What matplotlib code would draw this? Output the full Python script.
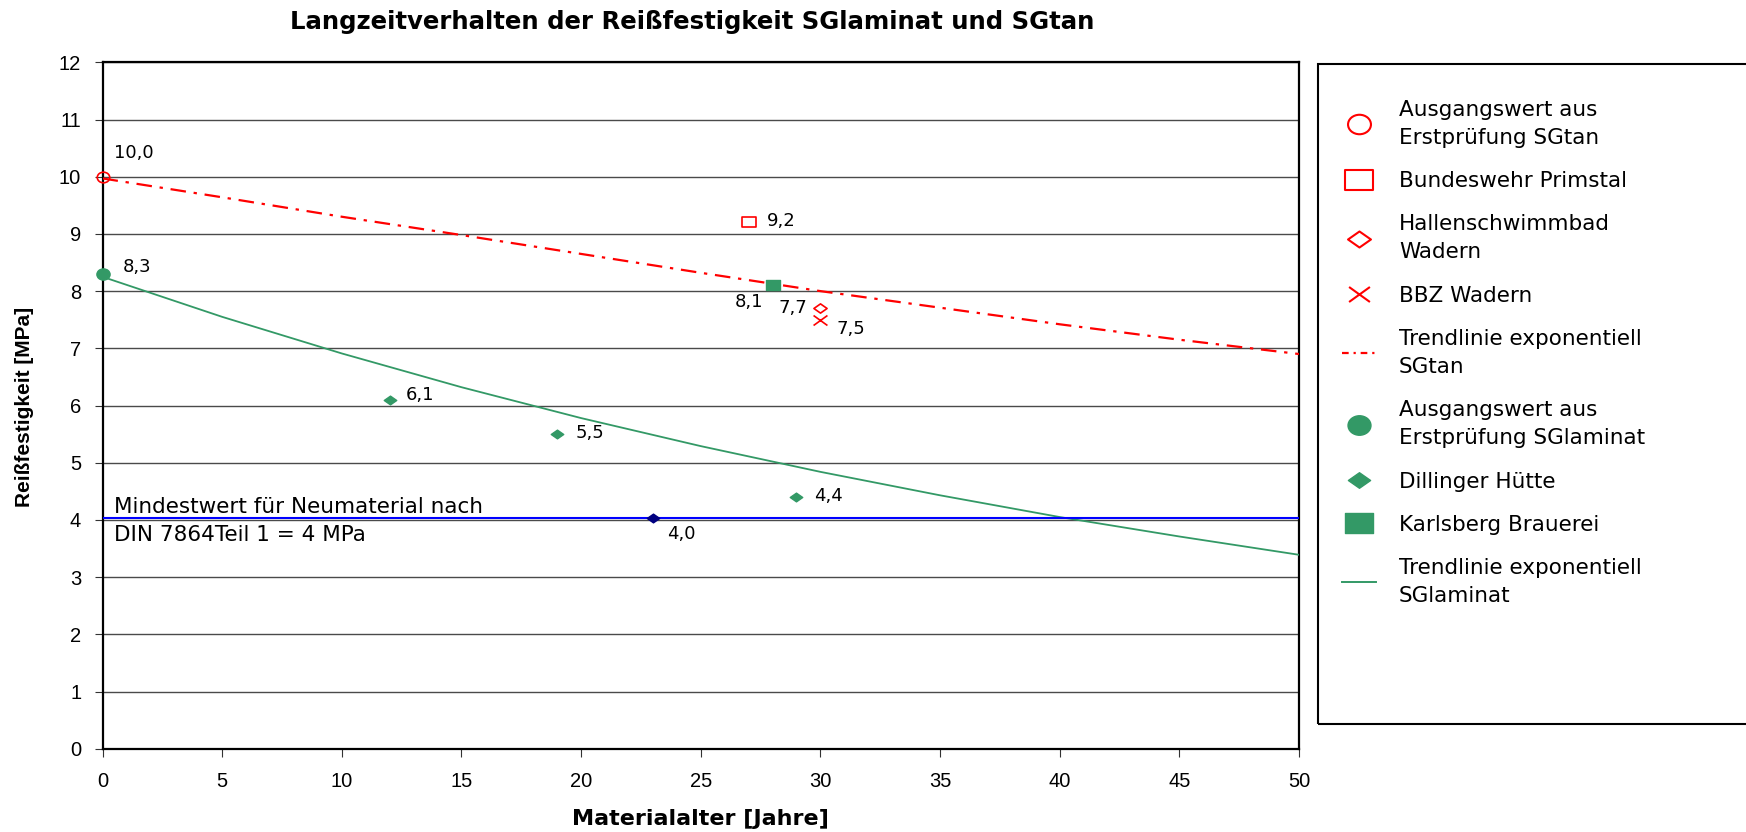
import numpy as np
import matplotlib
matplotlib.use("Agg")
import matplotlib.pyplot as plt
from matplotlib.path import Path
from matplotlib.lines import Line2D
from matplotlib.patches import Rectangle
import matplotlib.transforms as mtransforms

# ---------------- data ----------------
title = "Langzeitverhalten der Reißfestigkeit SGlaminat und SGtan"
x_label = "Materialalter [Jahre]"
y_label = "Reißfestigkeit [MPa]"

x_ticks = [0, 5, 10, 15, 20, 25, 30, 35, 40, 45, 50]
y_ticks = [0, 1, 2, 3, 4, 5, 6, 7, 8, 9, 10, 11, 12]

# SGtan
tan_start_x = [0]
tan_start_y = [10.0]
primstal_x = [27]
primstal_y = [9.2]
hallen_x = [30]
hallen_y = [7.7]
bbz_x = [30]
bbz_y = [7.5]

# SGlaminat
lam_start_x = [0]
lam_start_y = [8.3]
dillinger_x = [12, 19, 29]
dillinger_y = [6.1, 5.5, 4.4]
karlsberg_x = [28]
karlsberg_y = [8.1]

# trend lines
trend_x = [0, 5, 10, 15, 20, 25, 30, 35, 40, 45, 50]
trend_tan_y = [9.97, 9.64, 9.30, 8.98, 8.65, 8.32, 8.00, 7.71, 7.42, 7.15, 6.90]
trend_lam_y = [8.25, 7.55, 6.91, 6.32, 5.78, 5.29, 4.84, 4.43, 4.05, 3.71, 3.39]

# minimum value line
min_line_x = [0, 50]
min_line_y = [4.0, 4.0]
min_point_x = [23]
min_point_y = [4.0]
min_text = "Mindestwert für Neumaterial nach\nDIN 7864Teil 1 = 4 MPa"

legend_labels = [
    "Ausgangswert aus\nErstprüfung SGtan",
    "Bundeswehr Primstal",
    "Hallenschwimmbad\nWadern",
    "BBZ Wadern",
    "Trendlinie exponentiell\nSGtan",
    "Ausgangswert aus\nErstprüfung SGlaminat",
    "Dillinger Hütte",
    "Karlsberg Brauerei",
    "Trendlinie exponentiell\nSGlaminat",
]

# ---------------- styles ----------------
RED = "#FF0000"
GREEN = "#339966"
NAVY = "#000080"
BLUE = "#0000FF"
SPACED = "DejaVu Sans"
ARIAL = "Liberation Sans"

W, H, DPI = 1746, 832, 100
fig = plt.figure(figsize=(W / DPI, H / DPI), dpi=DPI)
fig.patch.set_facecolor("white")

ax_l, ax_r, ax_t, ax_b = 102.5, 1299.0, 62.3, 748.7
ax = fig.add_axes([ax_l / W, 1 - ax_b / H, (ax_r - ax_l) / W, (ax_b - ax_t) / H])


def ellipse_marker(r):
    c = Path.unit_circle()
    return Path(c.vertices * np.array([1.0, r]), c.codes)


def rect_marker(r):
    return Path([(-1, -r), (1, -r), (1, r), (-1, r), (-1, -r)],
                [Path.MOVETO, Path.LINETO, Path.LINETO, Path.LINETO, Path.CLOSEPOLY])


def diamond_marker(r):
    return Path([(0, r), (1, 0), (0, -r), (-1, 0), (0, r)],
                [Path.MOVETO, Path.LINETO, Path.LINETO, Path.LINETO, Path.CLOSEPOLY])


def x_marker(r):
    return Path([(-1, -r), (1, r), (-1, r), (1, -r)],
                [Path.MOVETO, Path.LINETO, Path.MOVETO, Path.LINETO])


m_circle = ellipse_marker(0.85)
m_rect = rect_marker(0.72)
m_diam = diamond_marker(0.7)
m_x = x_marker(0.72)

# trend lines
ax.plot(trend_x, trend_tan_y, color=RED, lw=1.6, dashes=(7, 3.5, 1.5, 3.5), zorder=3)
ax.plot(trend_x, trend_lam_y, color=GREEN, lw=1.3, zorder=3)

# minimum line, drawn 2px above the gridline like in the original
off = mtransforms.offset_copy(ax.transData, fig=fig, x=0, y=2, units="dots")
ax.plot(min_line_x, min_line_y, color=BLUE, lw=1.5, transform=off, zorder=3)
ax.plot(min_point_x, min_point_y, ls="none", marker=m_diam, ms=9, mfc=NAVY, mec=NAVY,
        transform=off, zorder=5, clip_on=False)

# SGtan markers
ax.plot(tan_start_x, tan_start_y, ls="none", marker=m_circle, ms=9, mfc="none", mec=RED,
        mew=1.2, zorder=5, clip_on=False)
ax.plot(primstal_x, primstal_y, ls="none", marker=m_rect, ms=9.5, mfc="none", mec=RED,
        mew=1.2, zorder=5)
ax.plot(hallen_x, hallen_y, ls="none", marker=m_diam, ms=9.5, mfc="none", mec=RED,
        mew=1.2, zorder=5)
ax.plot(bbz_x, bbz_y, ls="none", marker=m_x, ms=10, mfc="none", mec=RED, mew=1.2, zorder=5)

# SGlaminat markers
ax.plot(lam_start_x, lam_start_y, ls="none", marker=m_circle, ms=9.5, mfc=GREEN, mec=GREEN,
        zorder=5, clip_on=False)
ax.plot(dillinger_x, dillinger_y, ls="none", marker=m_diam, ms=9, mfc=GREEN, mec=GREEN, zorder=5)
ax.plot(karlsberg_x, karlsberg_y, ls="none", marker=m_rect, ms=9.5, mfc=GREEN, mec=GREEN, zorder=4)


# data labels (German decimal comma)
def fmt(v):
    return f"{v:.1f}".replace(".", ",")


label_specs = [
    (tan_start_x[0], tan_start_y[0], 8, 17, "left"),
    (lam_start_x[0], lam_start_y[0], 14.4, 5, "left"),
    (primstal_x[0], primstal_y[0], 13.2, 1.2, "left"),
    (karlsberg_x[0], karlsberg_y[0], -6.8, -12, "right"),
    (hallen_x[0], hallen_y[0], -9.7, 0, "right"),
    (bbz_x[0], bbz_y[0], 11.9, -6.7, "left"),
    (min_point_x[0], min_point_y[0], 10, -10, "left"),
    (dillinger_x[0], dillinger_y[0], 11.7, 3.6, "left"),
    (dillinger_x[1], dillinger_y[1], 13.3, 0.8, "left"),
    (dillinger_x[2], dillinger_y[2], 12.6, 0.5, "left"),
]
for x, y, dx, dy, ha in label_specs:
    ax.annotate(fmt(y), (x, y), xytext=(dx, dy), textcoords="offset points",
                ha=ha, va="center", fontsize=13, family=SPACED, color="black", zorder=6)

ax.text(0.46, 3.98, min_text, ha="left", va="center", fontsize=15.5, family=SPACED,
        linespacing=1.48, zorder=6)

# axes styling
ax.set_xlim(0, 50)
ax.set_ylim(0, 12)
ax.set_xticks(x_ticks)
ax.set_yticks(y_ticks)
ax.set_xticklabels([str(t) for t in x_ticks], family=ARIAL, fontsize=14.5)
ax.set_yticklabels([str(t) for t in y_ticks], family=ARIAL, fontsize=14.5)
ax.tick_params(axis="y", direction="out", length=5.8, width=0.8, color="#333333", pad=9.5)
ax.tick_params(axis="x", direction="out", length=5.8, width=0.8, color="#333333", pad=11)
ax.yaxis.grid(True, color="#4a4a4a", lw=1.0)
ax.set_axisbelow(True)
for s in ax.spines.values():
    s.set_color("black")
    s.set_linewidth(1.6)

ax.set_xlabel(x_label, family=SPACED, fontweight="bold", fontsize=16)
ax.xaxis.set_label_coords(0.5, (ax_b - 819) / (ax_b - ax_t))
ax.xaxis.label.set_va("center")
ax.set_ylabel(y_label, family=ARIAL, fontweight="bold", fontsize=15)
ax.yaxis.set_label_coords((25 - ax_l) / (ax_r - ax_l), (ax_b - 407) / (ax_b - ax_t))
ax.yaxis.label.set_va("center")

fig.text(692 / W, 1 - 21.7 / H, title, ha="center", va="center", fontsize=17.6,
         fontweight="bold", family=SPACED)

# legend
handles = [
    Line2D([], [], ls="none", marker=m_circle, ms=16.5, mfc="none", mec=RED, mew=1.5),
    Line2D([], [], ls="none", marker=m_rect, ms=19.5, mfc="none", mec=RED, mew=1.5),
    Line2D([], [], ls="none", marker=m_diam, ms=16.5, mfc="none", mec=RED, mew=1.5),
    Line2D([], [], ls="none", marker=m_x, ms=15, mfc="none", mec=RED, mew=1.5),
    Line2D([], [], color=RED, lw=1.6, dashes=(3, 2.2, 1, 2.2)),
    Line2D([], [], ls="none", marker=m_circle, ms=16.5, mfc=GREEN, mec=GREEN),
    Line2D([], [], ls="none", marker=m_diam, ms=16, mfc=GREEN, mec=GREEN),
    Line2D([], [], ls="none", marker=m_rect, ms=20, mfc=GREEN, mec=GREEN),
    Line2D([], [], color=GREEN, lw=1.4),
]
leg = fig.legend(handles, legend_labels, loc="upper left",
                 bbox_to_anchor=(1342 / W, 1 - 100 / H), bbox_transform=fig.transFigure,
                 frameon=False, prop={"family": SPACED, "size": 15.5},
                 handlelength=1.6, handletextpad=1.05, labelspacing=1.08,
                 borderpad=0, borderaxespad=0)
for t in leg.get_texts():
    t.set_linespacing(1.5)

fig.patches.append(Rectangle((1318 / W, 1 - 724 / H), 0.4, 660 / H, transform=fig.transFigure,
                             fill=False, ec="black", lw=1.5, clip_on=False))

fig.savefig("out.png", dpi=DPI, facecolor="white")
